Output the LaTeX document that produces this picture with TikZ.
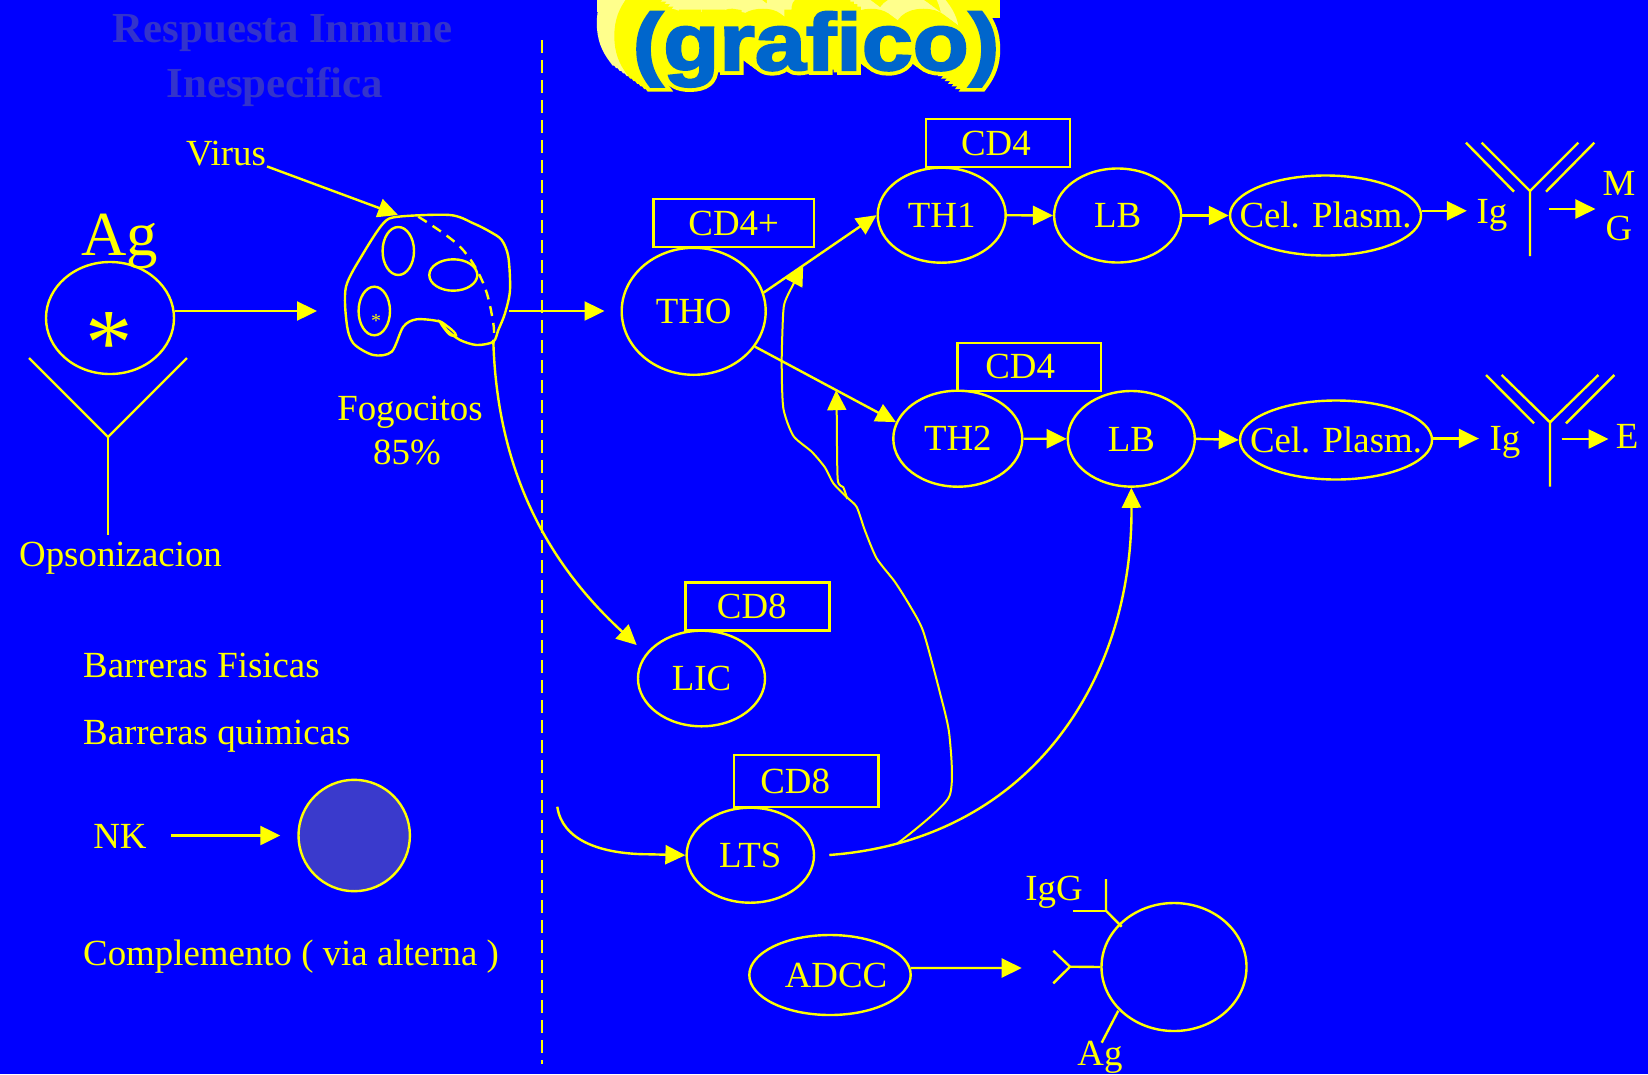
\documentclass[tikz,border=0pt]{standalone}
\usepackage{fontspec}
\setmainfont{Liberation Serif}
\newfontfamily\headrim{Liberation Sans}[BoldFeatures={FakeBold=12}]
\newfontfamily\headcore{Liberation Sans}[BoldFeatures={FakeBold=2.5}]
\usetikzlibrary{arrows.meta,shapes.geometric,calc}

\definecolor{slide}{RGB}{0,0,255}
\definecolor{ink}{RGB}{255,255,0}
\definecolor{ghost}{RGB}{51,51,204}
\definecolor{nkfill}{RGB}{58,58,204}
\definecolor{headfill}{RGB}{0,102,204}
\definecolor{paleink}{RGB}{255,255,140}

\newcommand\txtsize{\fontsize{37}{44}\selectfont}
% zero-width box so the ellipse keeps its given size; optional arg = twice the horizontal shift
\newcommand\celltext[2][0bp]{\makebox[0pt]{\hspace{#1}#2}}

\tikzset{
  arr/.style={-{Triangle[length=20bp,width=19bp]}},
  cellnode/.style={ellipse, draw=ink, inner sep=0pt, text=ink, font=\txtsize,
    text height=24.5bp, text depth=0pt},
  tagbox/.style={rectangle, draw=ink, inner sep=0pt, text=ink, font=\txtsize,
    text height=24.5bp, text depth=0pt},
  txt/.style={inner sep=0pt, text=ink, font=\txtsize, text height=24.5bp, text depth=0pt},
  wiggle/.style={line width=2bp},
  headrimtxt/.style={anchor=base, inner sep=0pt, xscale=1.045, yscale=0.92,
    font=\headrim\bfseries\fontsize{88}{90}\selectfont},
  headcoretxt/.style={anchor=base, inner sep=0pt, xscale=1.045, yscale=0.92,
    font=\headcore\bfseries\fontsize{88}{90}\selectfont},
}

\begin{document}
\begin{tikzpicture}[x=1bp, y=-1bp, line width=2.4bp, color=ink]
\fill[slide] (0,0) rectangle (1648,1074);
\useasboundingbox (0,0) rectangle (1648,1074);

% ---------- heading ----------
\node[anchor=base, inner sep=0pt, text=ghost, font=\fontsize{43}{50}\selectfont\bfseries] (head1) at (282.5,42) {Respuesta Inmune};
\node[anchor=base, inner sep=0pt, text=ghost, font=\fontsize{43}{50}\selectfont\bfseries] (head2) at (275,97) {Inespecifica};

\fill[paleink] (597,0) rectangle (985,12);
\fill[ink] (612,0) rectangle (1000,18);
% extruded shadow of the word, pale far away and bright near
\foreach \i in {0,...,9}{
  \ifnum\i<5 \def\shadecol{paleink}\else\def\shadecol{ink}\fi
  \node[headrimtxt, text=\shadecol] at ($(816,70)+(-35+3.5*\i,-26+2.6*\i)$) {(grafico)};
}
\node[headrimtxt, text=ink] (graficorim) at (816,70) {(grafico)};
\node[headcoretxt, text=headfill] (grafico) at (816,70) {(grafico)};

% ---------- innate side ----------
\node[anchor=base, inner sep=0pt, text=ink, font=\fontsize{63}{63}\selectfont] (agbig) at (120,255) {Ag};
\node[cellnode, minimum width=128bp, minimum height=112bp] (agcell) at (110,318) {};
\node[anchor=base, inner sep=0pt, text=ink, font=\fontsize{95}{95}\selectfont] (agstar) at (109,374) {*};
\draw (29,358) -- (108,437) -- (187,358);
\draw (108,437) -- (108,535);
\node[txt, anchor=west] (opso) at (18,554) {Opsonizacion};

\node[txt] (virus) at (226,153) {Virus};

% phagocyte
\coordinate (phagoL) at (317,311);
\coordinate (phagoR) at (509.3,311);
\coordinate (phagoTop) at (398,215);
\coordinate (phagoBot) at (493.3,340);
\draw plot[smooth cycle, tension=0.5] coordinates {
  (398.3,216.7) (450,215) (473.3,223.3) (490,231.7) (501.7,240) (508.3,256.7)
  (510,290) (505,313.3) (498.3,330) (493.3,341.7) (476.7,345) (460,340)
  (446.7,330) (440,321.7) (416.7,319.3) (403.3,326.7) (391.7,351.7)
  (373.3,355) (353.3,343.3) (346.7,323.3) (346,286.7) (363.3,253.3) (383.3,223.3)};
\draw plot[smooth cycle, tension=0.6] coordinates {(440,321.5) (452,330) (456,335.5) (449,334)};
\draw (398.3,251) ellipse [x radius=15.7, y radius=24];
\draw (453.3,275) ellipse [x radius=24, y radius=15.7];
\draw (374.3,311) ellipse [x radius=15.7, y radius=24.3];
\node[anchor=base, inner sep=0pt, text=ink, font=\fontsize{20}{20}\selectfont] (smallstar) at (376,327.4) {*};
\draw[dash pattern=on 10bp off 7bp] plot[smooth, tension=0.6] coordinates {
  (418.3,216.7) (460,246.7) (483.3,283.3) (493.3,323.3) (493.3,343.3)};
\node[txt] (fogo) at (410,408) {Fogocitos};
\node[txt] (pct) at (407,452) {85\%};

\draw[arr] (virus.south east) -- (phagoTop);
\draw[arr] (agcell.east |- phagoL) -- (phagoL);

\node[txt, anchor=west] (barf) at (82,665) {Barreras Fisicas};
\node[txt, anchor=west] (barq) at (82,732.6) {Barreras quimicas};
\node[txt] (nklab) at (120,836) {NK};
\node[circle, draw=ink, fill=nkfill, minimum size=111.4bp, inner sep=0pt] (nkcell) at (354.2,835.5) {};
\draw[arr, shorten <=23bp, shorten >=17bp] (nklab.east |- nkcell) -- (nkcell.west);
\node[txt, anchor=west] (compl) at (82,953.3) {Complemento ( via alterna )};

% divider
\draw[dash pattern=on 13bp off 7bp, line width=2bp] (542,40) -- (542,1064);

% ---------- specific side ----------
\node[cellnode, minimum width=144bp, minimum height=127bp] (tho) at (693.7,311.3) {\celltext{THO}};
\node[tagbox, minimum width=160.7bp, minimum height=47.7bp] (cd4p) at (733.7,222.9) {\celltext{CD4+}};
\node[cellnode, minimum width=128bp, minimum height=95bp] (th1) at (941.7,215.2) {\celltext{TH1}};
\node[tagbox, minimum width=144.3bp, minimum height=47.7bp] (cd4a) at (997.9,142.9) {\celltext[-4bp]{CD4}};
\node[cellnode, minimum width=127bp, minimum height=94bp] (lb1) at (1117.6,215.5) {\celltext{LB}};
\node[cellnode, minimum width=191bp, minimum height=80bp] (cel1) at (1325.5,215.5) {\celltext{Cel. Plasm.}};
\node[txt] (ig1) at (1492,210.8) {Ig};
\node[txt] (m1) at (1619,182.75) {M};
\node[txt] (g1) at (1619,227.75) {G};

\node[cellnode, minimum width=129bp, minimum height=96bp] (th2) at (957.8,438.7) {\celltext{TH2}};
\node[tagbox, minimum width=143.7bp, minimum height=48bp] (cd4b) at (1029.2,366.7) {\celltext[-18bp]{CD4}};
\node[cellnode, minimum width=127bp, minimum height=95.6bp] (lb2) at (1131.3,438.8) {\celltext{LB}};
\node[cellnode, minimum width=192bp, minimum height=79bp] (cel2) at (1336,440) {\celltext{Cel. Plasm.}};
\node[txt] (ig2) at (1505,438.5) {Ig};
\node[txt] (e2) at (1627,436) {E};

\node[tagbox, minimum width=144bp, minimum height=48.3bp] (cd8a) at (757.3,606.5) {\celltext[-11bp]{CD8}};
\node[cellnode, minimum width=127bp, minimum height=95.6bp] (lic) at (701.5,678.5) {\celltext{LIC}};
\node[tagbox, minimum width=144.3bp, minimum height=51.7bp] (cd8b) at (806.2,780.9) {\celltext[-22bp]{CD8}};
\node[cellnode, minimum width=127.4bp, minimum height=95bp] (lts) at (750.3,855.2) {\celltext{LTS}};

\node[cellnode, minimum width=161.4bp, minimum height=80bp] (adcc) at (830,975) {\celltext[12bp]{ADCC}};
\node[ellipse, draw=ink, inner sep=0pt, minimum width=145bp, minimum height=128bp] (target) at (1174,967) {};
\node[txt] (igg) at (1054,887.75) {IgG};
\node[txt] (agsmall) at (1100,1052.75) {Ag};

% antibodies
\draw (1530,256) -- (1530,191) -- (1481.7,142.7);
\draw (1530,191) -- (1578.3,142.7);
\draw (1466,142.7) -- (1514,191.7);
\draw (1594.3,142.7) -- (1546,191.7);
\draw (1550,486.7) -- (1550,422.3) -- (1501.7,375);
\draw (1550,422.3) -- (1598.3,375);
\draw (1486,375) -- (1534,423.3);
\draw (1614.3,375) -- (1566,423.3);

% connectors
\draw[arr, shorten >=16bp] (phagoR) -- (tho.west |- phagoR);
\draw[arr] (tho.15) -- (th1.west) coordinate[pos=0.35] (up1);
\draw[arr] (tho.-30) -- (th2.165) coordinate[pos=0.576] (up2);
\draw[arr] (th1.east) -- (lb1.west);
\draw[arr] (lb1.east) -- (cel1.west);
\draw[arr, shorten >=8.6bp] (cel1.east |- ig1) -- (ig1.west);
\coordinate (ab1out) at (1549.3,209);
\draw[arr, shorten >=6bp] (ab1out) -- (ab1out -| m1.west);
\draw[arr] (th2.east) -- (lb2.west);
\draw[arr] (lb2.east) -- (cel2.west);
\draw[arr, shorten >=9.6bp] (cel2.east |- ig2) -- (ig2.west);
\coordinate (ab2out) at (1561.7,439);
\draw[arr, shorten >=6bp] (ab2out) -- (ab2out -| e2.west);

\coordinate (licIn) at (636.7,645);
\draw[arr] (phagoBot) .. controls (497,480) and (555,570) .. (licIn);

\coordinate (ltsFrom) at (557.3,806.7);
\draw[arr] (ltsFrom) .. controls (562,840) and (600,854.3) .. (650,854.3) -- (lts.west);

\coordinate (ltsOut) at (829.3,855);
\draw[arr] (ltsOut) .. controls (1030,840) and (1133,680) .. (lb2.south) coordinate[pos=0.12] (join);

\draw[arr, wiggle] plot[smooth, tension=0.4] coordinates {(join) (949,797) (949.5,736)
  (940,693) (923.3,631.6) (910,605.9) (895,582) (876.7,558.4) (865,530.7) (856.7,507)
  (846.7,497.1) (833.3,483.3) (825,467.5) (811.7,451.7) (793.3,435.8) (783.3,408)
  (781.7,360.7) (783.3,311.3) (786.7,297.4) (up1)};
\coordinate (fork2) at (847.3,499);
\draw[arr, wiggle] plot[smooth, tension=0.4] coordinates {(fork2) (843.3,487.2) (837.7,479.3) (836.7,412) (up2)};

\coordinate (adccTip) at (1021.7,968);
\draw[arr] (adcc.5) -- (adccTip);
\coordinate (fkv) at (1070,966.7);
\draw (target.west) -- (fkv);
\draw (1053.3,950.7) -- (fkv) -- (1053.3,983.3);
\draw (1106,879) -- (1106,910.7) -- (1121.7,926.7);
\draw (1073.3,910.7) -- (1106,910.7);
\draw (1118.3,1010.7) -- (1101.7,1042.7);
\end{tikzpicture}
\end{document}
